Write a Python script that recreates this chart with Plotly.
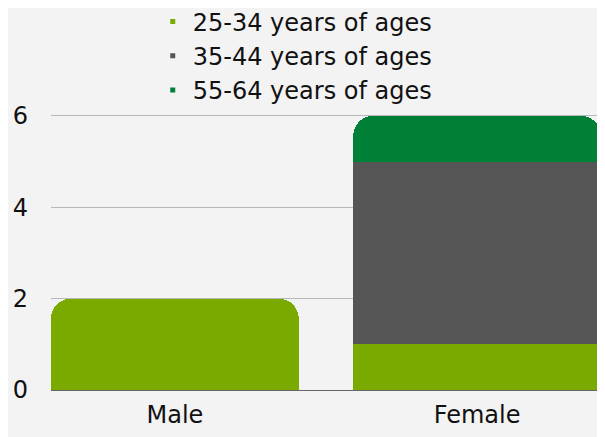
import plotly.graph_objects as go

categories = ["Male", "Female"]
series_names = ["25-34 years of ages", "35-44 years of ages", "55-64 years of ages"]
age_25_34 = [2, 1]
age_35_44 = [0, 4]
age_55_64 = [0, 1]
y_ticks = [0, 2, 4, 6]

colors = ["#7AAA00", "#555555", "#008037"]
values = [age_25_34, age_35_44, age_55_64]

fig = go.Figure()
for name, vals, col in zip(series_names, values, colors):
    fig.add_trace(go.Bar(
        x=categories, y=[v if v else None for v in vals], name=name,
        marker=dict(color=col, line=dict(width=0)),
        width=0.82, showlegend=False,
    ))
for name, col in zip(series_names, colors):
    fig.add_trace(go.Scatter(
        x=[categories[0]], y=[None], mode="markers", name=name,
        marker=dict(symbol="square", size=5, color=col),
        showlegend=True, hoverinfo="skip",
    ))

fig.update_layout(
    width=605, height=437,
    barmode="stack",
    barcornerradius=20,
    paper_bgcolor="#f3f3f3",
    plot_bgcolor="#f3f3f3",
    font=dict(family="DejaVu Sans, sans-serif", size=24, color="#111111"),
    margin=dict(l=43, r=12, t=106, b=55, autoexpand=False),
    legend=dict(
        orientation="v",
        traceorder="normal",
        x=0.185, xanchor="left", y=1.415, yanchor="top",
        font=dict(size=24, color="#111111"),
        bgcolor="rgba(0,0,0,0)",
        itemwidth=30,
        tracegroupgap=0,
    ),
    xaxis=dict(
        type="category",
        range=[-0.41, 1.41],
        showgrid=False,
        showline=False,
        zeroline=False,
        tickangle=0,
        automargin=False,
        ticks="",
        ticklabelstandoff=8,
    ),
    yaxis=dict(
        range=[0, 6.04],
        tickvals=y_ticks,
        showgrid=True,
        gridcolor="#b8b8b8",
        gridwidth=1,
        zeroline=True,
        zerolinecolor="#666666",
        zerolinewidth=1,
        showline=False,
        automargin=False,
        ticklabelstandoff=22,
    ),
)

fig.write_html("out.html")
